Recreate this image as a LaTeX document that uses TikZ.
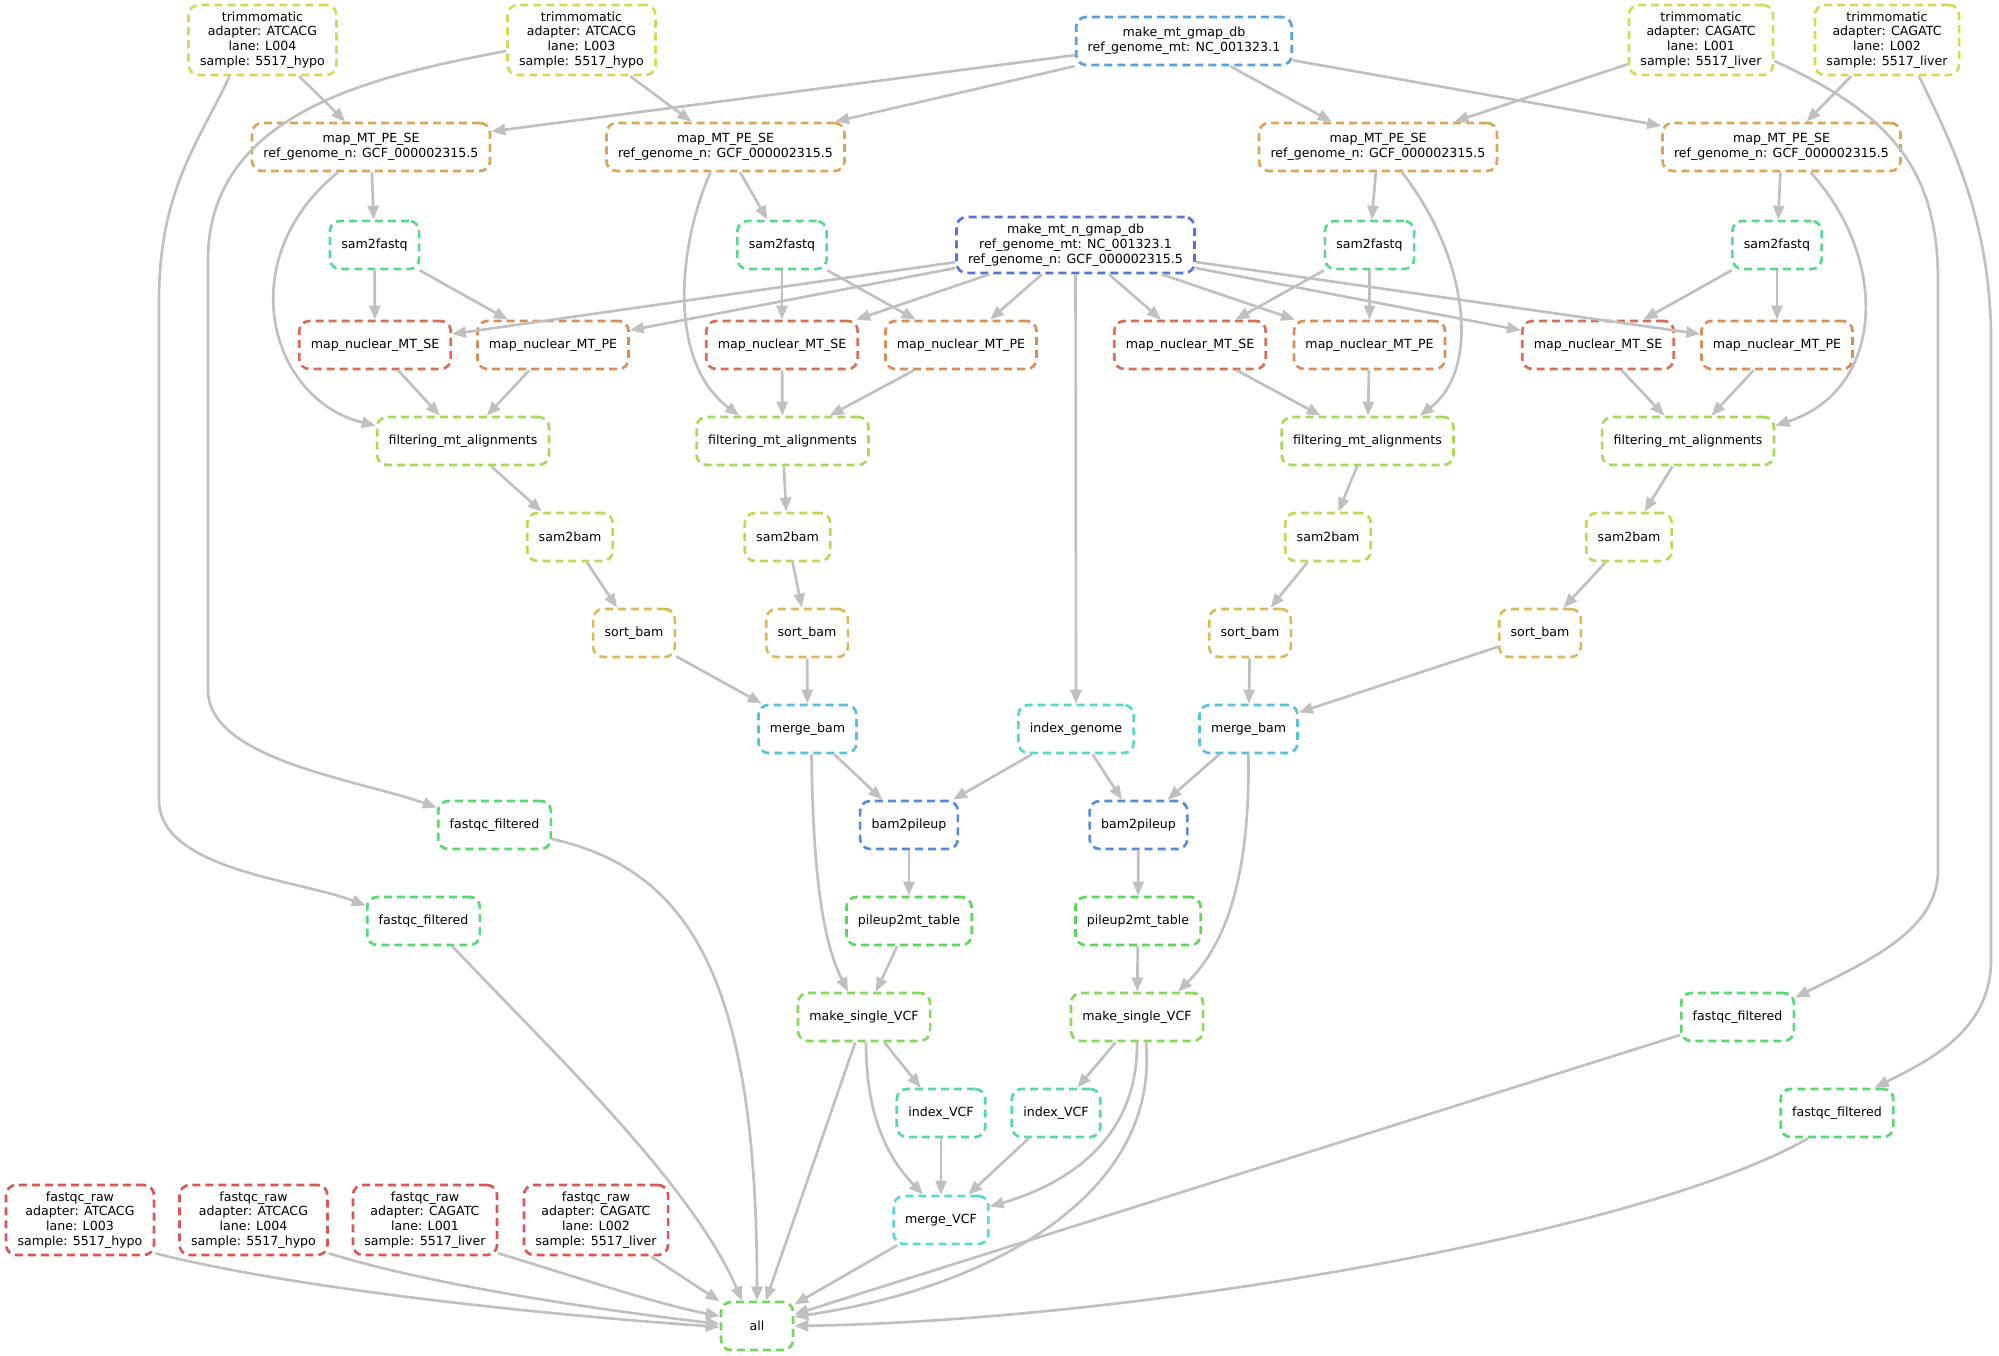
\documentclass[tikz,border=0pt]{standalone}
\usepackage{fontspec}
\setmainfont{DejaVu Sans}
\usepackage{xcolor}
\usetikzlibrary{arrows.meta}

% one hue per rule
\definecolor{rawcol}{HTML}{D95757}
\definecolor{nsecol}{HTML}{D96E57}
\definecolor{npecol}{HTML}{D98E57}
\definecolor{mapcol}{HTML}{D9A557}
\definecolor{sortcol}{HTML}{D9BC57}
\definecolor{trimcol}{HTML}{D6D957}
\definecolor{sbcol}{HTML}{BFD957}
\definecolor{filtcol}{HTML}{A8D957}
\definecolor{vcfcol}{HTML}{88D957}
\definecolor{allcol}{HTML}{71D957}
\definecolor{tabcol}{HTML}{5AD957}
\definecolor{fqfcol}{HTML}{57D974}
\definecolor{sfcol}{HTML}{57D98B}
\definecolor{ivcol}{HTML}{57D9A2}
\definecolor{idxcol}{HTML}{57D9C2}
\definecolor{mvcfcol}{HTML}{57D9D9}
\definecolor{mbamcol}{HTML}{57C2D9}
\definecolor{mtdbcol}{HTML}{57A2D9}
\definecolor{pilecol}{HTML}{578BD9}
\definecolor{nmdbcol}{HTML}{5774D9}
\definecolor{edgecol}{HTML}{C0C0C0}

\begin{document}
\begin{tikzpicture}[
    x=1pt, y=-1pt,
    font=\fontsize{12.6}{14.8}\selectfont,
    job/.style={draw, line width=2.67pt, dash pattern=on 8pt off 5pt, rounded corners=10pt,
                minimum width=72pt, minimum height=48pt, inner xsep=11.5pt, inner ysep=4pt,
                align=center},
    fourline/.style={minimum height=70pt},
    arr/.style={draw=edgecol, line width=2.67pt, -{Triangle[length=14pt, width=11pt]}}
]
\useasboundingbox (0,0) rectangle (1999,1356);

% top row
\node[job, draw=trimcol, fourline] (trimA) at (262.5, 40) {trimmomatic\\adapter: ATCACG\\lane: L004\\sample: 5517\_hypo};
\node[job, draw=trimcol, fourline] (trimB) at (581.5, 40) {trimmomatic\\adapter: ATCACG\\lane: L003\\sample: 5517\_hypo};
\node[job, draw=mtdbcol]           (mtdb)  at (1184, 41)  {make\_mt\_gmap\_db\\ref\_genome\_mt: NC\_001323.1};
\node[job, draw=trimcol, fourline] (trimC) at (1701, 40)  {trimmomatic\\adapter: CAGATC\\lane: L001\\sample: 5517\_liver};
\node[job, draw=trimcol, fourline] (trimD) at (1887, 40)  {trimmomatic\\adapter: CAGATC\\lane: L002\\sample: 5517\_liver};

\node[job, draw=mapcol] (mapA) at (371, 147)    {map\_MT\_PE\_SE\\ref\_genome\_n: GCF\_000002315.5};
\node[job, draw=mapcol] (mapB) at (725.5, 147)  {map\_MT\_PE\_SE\\ref\_genome\_n: GCF\_000002315.5};
\node[job, draw=mapcol] (mapC) at (1378, 147)   {map\_MT\_PE\_SE\\ref\_genome\_n: GCF\_000002315.5};
\node[job, draw=mapcol] (mapD) at (1781.5, 147) {map\_MT\_PE\_SE\\ref\_genome\_n: GCF\_000002315.5};

\node[job, draw=sfcol]   (sfA)  at (374.5, 245)  {sam2fastq};
\node[job, draw=sfcol]   (sfB)  at (782, 245)    {sam2fastq};
\node[job, draw=nmdbcol, minimum height=56pt] (nmdb) at (1075.5, 245)
    {make\_mt\_n\_gmap\_db\\ref\_genome\_mt: NC\_001323.1\\ref\_genome\_n: GCF\_000002315.5};
\node[job, draw=sfcol]   (sfC)  at (1369.5, 245) {sam2fastq};
\node[job, draw=sfcol]   (sfD)  at (1777, 245)   {sam2fastq};

\node[job, draw=nsecol] (seA) at (375, 345)    {map\_nuclear\_MT\_SE};
\node[job, draw=npecol] (peA) at (553, 345)    {map\_nuclear\_MT\_PE};
\node[job, draw=nsecol] (seB) at (782, 345)    {map\_nuclear\_MT\_SE};
\node[job, draw=npecol] (peB) at (961, 345)    {map\_nuclear\_MT\_PE};
\node[job, draw=nsecol] (seC) at (1190, 345)   {map\_nuclear\_MT\_SE};
\node[job, draw=npecol] (peC) at (1369.5, 345) {map\_nuclear\_MT\_PE};
\node[job, draw=nsecol] (seD) at (1598, 345)   {map\_nuclear\_MT\_SE};
\node[job, draw=npecol] (peD) at (1777, 345)   {map\_nuclear\_MT\_PE};

\node[job, draw=filtcol] (filtA) at (463, 441)    {filtering\_mt\_alignments};
\node[job, draw=filtcol] (filtB) at (782.5, 441)  {filtering\_mt\_alignments};
\node[job, draw=filtcol] (filtC) at (1367.5, 441) {filtering\_mt\_alignments};
\node[job, draw=filtcol] (filtD) at (1688, 441)   {filtering\_mt\_alignments};

\node[job, draw=sbcol] (sbA) at (570, 537)   {sam2bam};
\node[job, draw=sbcol] (sbB) at (787.5, 537) {sam2bam};
\node[job, draw=sbcol] (sbC) at (1328, 537)  {sam2bam};
\node[job, draw=sbcol] (sbD) at (1629, 537)  {sam2bam};

\node[job, draw=sortcol] (sortA) at (634, 633)  {sort\_bam};
\node[job, draw=sortcol] (sortB) at (807, 633)  {sort\_bam};
\node[job, draw=sortcol] (sortC) at (1250, 633) {sort\_bam};
\node[job, draw=sortcol] (sortD) at (1540, 633) {sort\_bam};

\node[job, draw=mbamcol] (mergeA) at (807.5, 729)  {merge\_bam};
\node[job, draw=idxcol]  (idxgen) at (1076, 729)   {index\_genome};
\node[job, draw=mbamcol] (mergeB) at (1248.5, 729) {merge\_bam};

\node[job, draw=fqfcol]  (fqfA)  at (494.5, 825)  {fastqc\_filtered};
\node[job, draw=pilecol] (pileA) at (909, 825)    {bam2pileup};
\node[job, draw=pilecol] (pileB) at (1138.5, 825) {bam2pileup};

\node[job, draw=fqfcol] (fqfB) at (423.5, 921) {fastqc\_filtered};
\node[job, draw=tabcol] (tabA) at (909, 921)   {pileup2mt\_table};
\node[job, draw=tabcol] (tabB) at (1138, 921)  {pileup2mt\_table};

\node[job, draw=vcfcol] (vcfA) at (864, 1017)    {make\_single\_VCF};
\node[job, draw=vcfcol] (vcfB) at (1137, 1017)   {make\_single\_VCF};
\node[job, draw=fqfcol] (fqfC) at (1737.5, 1017) {fastqc\_filtered};

\node[job, draw=ivcol]  (ivA)  at (941, 1113)  {index\_VCF};
\node[job, draw=ivcol]  (ivB)  at (1056, 1113) {index\_VCF};
\node[job, draw=fqfcol] (fqfD) at (1837, 1113) {fastqc\_filtered};

% bottom row
\node[job, draw=rawcol, fourline] (rawA) at (80, 1220)    {fastqc\_raw\\adapter: ATCACG\\lane: L003\\sample: 5517\_hypo};
\node[job, draw=rawcol, fourline] (rawB) at (253.5, 1220) {fastqc\_raw\\adapter: ATCACG\\lane: L004\\sample: 5517\_hypo};
\node[job, draw=rawcol, fourline] (rawC) at (425, 1220)   {fastqc\_raw\\adapter: CAGATC\\lane: L001\\sample: 5517\_liver};
\node[job, draw=rawcol, fourline] (rawD) at (596, 1220)   {fastqc\_raw\\adapter: CAGATC\\lane: L002\\sample: 5517\_liver};
\node[job, draw=mvcfcol] (mvcf) at (941, 1220) {merge\_VCF};

\node[job, draw=allcol] (all) at (757, 1326) {all};

% trimmomatic --> map_MT_PE_SE / fastqc_filtered
\draw[arr] (trimA) -- (mapA);
\draw[arr] (trimB) -- (mapB);
\draw[arr] (trimC) -- (mapC);
\draw[arr] (trimD) -- (mapD);
\draw[arr] ([xshift=-33pt]trimA.south) .. controls (200,140) and (159,190) .. (159,300)
    -- (159,800) .. controls (159,870) and (300,880) .. ([yshift=-10pt]fqfB.north west);
\draw[arr] ([yshift=-11pt]trimB.west) .. controls (380,75) and (208,110) .. (208,260)
    -- (208,690) .. controls (208,760) and (360,780) .. ([yshift=-8pt]fqfA.north west);
\draw[arr] ([yshift=-21pt]trimC.east) .. controls (1880,110) and (1938,160) .. (1938,280)
    -- (1938,870) .. controls (1938,930) and (1870,960) .. ([yshift=-6pt]fqfC.north east);
\draw[arr] ([xshift=32pt]trimD.south) .. controls (1950,140) and (1991,220) .. (1991,340)
    -- (1991,960) .. controls (1991,1030) and (1930,1060) .. ([xshift=-20pt]fqfD.north east);

% make_mt_gmap_db --> map_MT_PE_SE
\foreach \m in {mapA, mapB, mapC, mapD}
    \draw[arr] (mtdb) -- (\m);

% map_MT_PE_SE --> sam2fastq / filtering
\foreach \x in {A, B, C, D}
    \draw[arr] (map\x) -- (sf\x);
\draw[arr] ([xshift=-33pt]mapA.south) .. controls (230,260) and (270,400) .. ([yshift=-10pt]filtA.north west);
\draw[arr] ([xshift=-15pt]mapB.south) .. controls (680,240) and (665,360) .. ([xshift=44pt]filtB.north west);
\draw[arr] ([xshift=24pt]mapC.south) .. controls (1470,260) and (1480,370) .. ([xshift=-35pt]filtC.north east);
\draw[arr] ([xshift=29pt]mapD.south) .. controls (1890,260) and (1885,390) .. ([yshift=-10pt]filtD.north east);

% sam2fastq / make_mt_n_gmap_db --> map_nuclear
\foreach \x in {A, B, C, D} {
    \draw[arr] (sf\x) -- (se\x);
    \draw[arr] (sf\x) -- (pe\x);
    \draw[arr] (nmdb) -- (se\x);
    \draw[arr] (nmdb) -- (pe\x);
}
\draw[arr] (nmdb) -- (idxgen);

% map_nuclear --> filtering --> sam2bam --> sort_bam
\foreach \x in {A, B, C, D} {
    \draw[arr] (se\x) -- (filt\x);
    \draw[arr] (pe\x) -- (filt\x);
    \draw[arr] (filt\x) -- (sb\x);
    \draw[arr] (sb\x) -- (sort\x);
}

% sort_bam --> merge_bam --> bam2pileup
\draw[arr] (sortA) -- (mergeA);
\draw[arr] (sortB) -- (mergeA);
\draw[arr] (sortC) -- (mergeB);
\draw[arr] (sortD) -- (mergeB);
\draw[arr] (mergeA) -- (pileA);
\draw[arr] (idxgen) -- (pileA);
\draw[arr] (idxgen) -- (pileB);
\draw[arr] (mergeB) -- (pileB);
\draw[arr] (pileA) -- (tabA);
\draw[arr] (pileB) -- (tabB);

% make_single_VCF
\draw[arr] (tabA) -- (vcfA);
\draw[arr] (tabB) -- (vcfB);
\draw[arr] ([xshift=4pt]mergeA.south) .. controls (813,870) and (822,940) .. ([xshift=-16pt]vcfA.north);
\draw[arr] (mergeB.south) .. controls (1250,880) and (1225,945) .. ([xshift=41pt]vcfB.north);
\draw[arr] (vcfA) -- (ivA);
\draw[arr] (vcfB) -- (ivB);
\draw[arr] (ivA) -- (mvcf);
\draw[arr] (ivB) -- (mvcf);
\draw[arr] ([xshift=2pt]vcfA.south) .. controls (866,1120) and (890,1160) .. ([xshift=-18pt]mvcf.north);
\draw[arr] (vcfB.south) .. controls (1138,1130) and (1080,1180) .. ([yshift=-12pt]mvcf.north east);

% everything --> all
\draw[arr] (vcfA) -- (all);
\draw[arr] (mvcf) -- (all);
\draw[arr] ([xshift=9pt]vcfB.south) .. controls (1160,1200) and (980,1290) .. ([yshift=-16pt]all.north east);
\draw[arr] (fqfC) -- (all);
\draw[arr] ([xshift=-29pt]fqfD.south) .. controls (1650,1230) and (1150,1320) .. (all.east);
\draw[arr] ([yshift=-14pt]fqfA.east) .. controls (690,870) and (757,980) .. (all.north);
\draw[arr] ([xshift=29pt]fqfB.south) .. controls (540,1040) and (690,1180) .. ([xshift=-15pt]all.north);
\draw[arr] ([yshift=3pt]rawA.south east) .. controls (300,1290) and (550,1315) .. ([yshift=-1pt]all.west);
\draw[arr] ([yshift=3pt]rawB.south east) .. controls (430,1285) and (600,1310) .. ([yshift=2pt]all.west);
\draw[arr] ([yshift=3pt]rawC.south east) .. controls (570,1275) and (660,1305) .. ([yshift=10pt]all.west);
\draw[arr] (rawD) -- (all);

\end{tikzpicture}
\end{document}
